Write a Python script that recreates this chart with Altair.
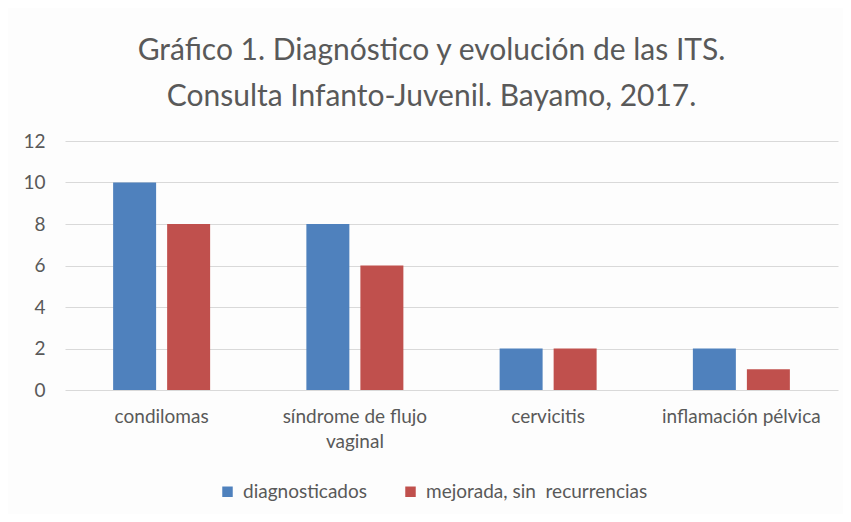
import altair as alt
import pandas as pd

categories = ["condilomas", "síndrome de flujo vaginal", "cervicitis", "inflamación pélvica"]
series = ["diagnosticados", "mejorada, sin\u00a0 recurrencias"]
diagnosticados = [10, 8, 2, 2]
mejorada = [8, 6, 2, 1]
colors = ["#4F81BD", "#C0504D"]

rows = []
for c, a, b in zip(categories, diagnosticados, mejorada):
    rows.append({"cat": c, "serie": series[0], "valor": a})
    rows.append({"cat": c, "serie": series[1], "valor": b})
df = pd.DataFrame(rows)

font = "Lato"
gray = "#595959"

chart = alt.Chart(df).mark_bar().encode(
    x=alt.X("cat:N", sort=categories, title=None,
            scale=alt.Scale(paddingInner=0, paddingOuter=0),
            axis=alt.Axis(labelAngle=0, ticks=False, domain=False, labelFontSize=19,
                          labelColor=gray, labelFont=font, labelPadding=17, labelLimit=300,
                          labelExpr="datum.label == 'síndrome de flujo vaginal' ? ['síndrome de flujo', 'vaginal'] : datum.label",
                          labelLineHeight=25)),
    xOffset=alt.XOffset("serie:N", sort=series,
                        scale=alt.Scale(paddingInner=0.204, paddingOuter=0.891)),
    y=alt.Y("valor:Q", title=None,
            scale=alt.Scale(domain=[0, 12]),
            axis=alt.Axis(values=[0, 2, 4, 6, 8, 10, 12], ticks=False, domain=False,
                          labelFontSize=19, labelColor=gray, labelFont=font, labelPadding=20,
                          gridColor="#d9d9d9", gridWidth=1)),
    color=alt.Color("serie:N", sort=series,
                    scale=alt.Scale(domain=series, range=colors),
                    legend=alt.Legend(title=None, orient="none", direction="horizontal",
                                      legendX=153, legendY=341, symbolType="square",
                                      symbolSize=110, symbolStrokeWidth=0, labelFontSize=19,
                                      labelColor=gray, labelFont=font, columnPadding=34,
                                      labelOffset=6, labelLimit=400)),
).properties(
    width=773, height=249,
    padding={"left": 57, "top": 133, "right": 5, "bottom": 124},
    autosize=alt.AutoSizeParams(type="none"),
    title=alt.TitleParams(
        text=["Gráfico 1. Diagnóstico y evolución de las ITS.", "Consulta Infanto-Juvenil. Bayamo, 2017."],
        anchor="middle", fontSize=30, font=font, color=gray, fontWeight="normal",
        lineHeight=46, dx=-20, offset=20),
).configure(background="#fdfdfd").configure_view(stroke=None)

chart.save("out.html", embed_options={"renderer": "svg", "actions": False})
